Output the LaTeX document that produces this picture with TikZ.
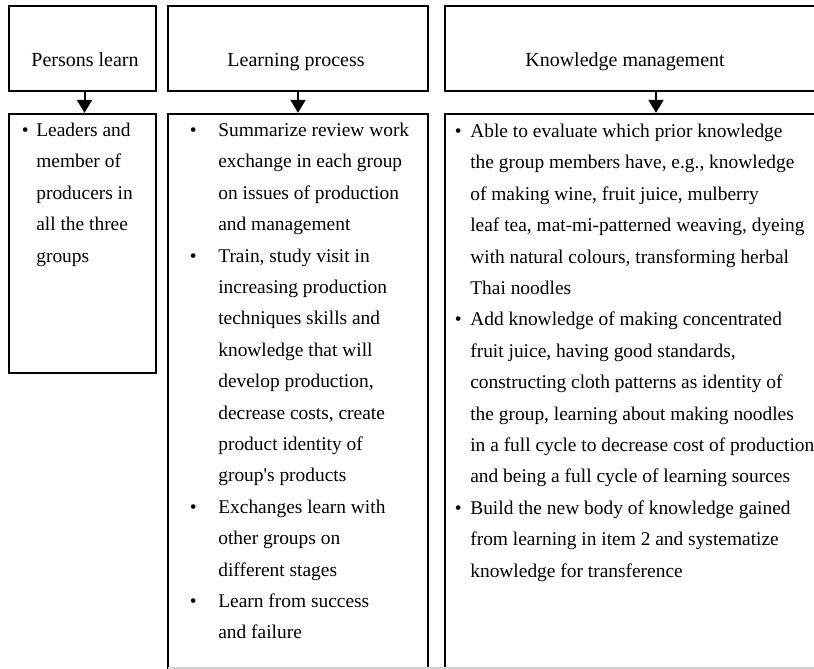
\documentclass[tikz,border=0pt]{standalone}
\usepackage{fontspec}
\setmainfont{Liberation Serif}
\usetikzlibrary{arrows.meta}
\begin{document}
\begin{tikzpicture}[x=0.6pt,y=-0.6pt]
	\tikzstyle{Head} = [rectangle, draw=black, line width=1.4pt, inner sep=0pt, minimum height=51pt]
	\tikzstyle{Body} = [rectangle, draw=black, line width=1.4pt, inner sep=0pt]
	\tikzstyle{Label} = [inner sep=0pt, anchor=base, font=\fontsize{12}{18.84}\selectfont]
	\tikzstyle{List} = [inner sep=0pt, anchor=base west, font=\fontsize{11.65}{18.84}\selectfont]
	\tikzstyle{arrow} = [line width=1.2pt, -{Triangle[width=9pt,length=7.8pt]}]
	
	\useasboundingbox (0,0) rectangle (814,669);
	\clip (0,0) rectangle (814,669);
	
	% top row
	\node (h1) [Head, minimum width=88.2pt] at (82.5,48.5) {};
	\node (h2) [Head, minimum width=156pt] at (298,48.5) {};
	\node (h3) [Head, minimum width=253.2pt] at (656,48.5) {};
	\node (l1) [Label] at (85,66.5) {Persons learn};
	\node (l2) [Label] at (296,66.5) {Learning process};
	\node (l3) [Label] at (625,66.5) {Knowledge management};
	
	% lower row
	\node (b1) [Body, minimum width=88.2pt, minimum height=155.4pt] at (82.5,243.5) {};
	\node (b2) [Body, minimum width=156pt, minimum height=351.6pt] at (298,407) {};
	\node (b3) [Body, minimum width=253.2pt, minimum height=351.6pt] at (656,407) {};
	\draw [gray!35, line width=0.8pt] (168,668) -- (814,668);
	
	\draw [arrow] ([xshift=1.2pt]h1.south) -- ([xshift=1.2pt]b1.north);
	\draw [arrow] (h2.south) -- (b2.north);
	\draw [arrow] (h3.south) -- (b3.north);
	
	\node (t1) [List] at (21.5,136.5) {%
		\begin{tabular}[t]{@{}p{8.7pt}@{}l@{}}
			\textbullet & Leaders and\\
			& member of\\
			& producers in\\
			& all the three\\
			& groups
		\end{tabular}};
	\node (t2) [List] at (189.5,136.5) {%
		\begin{tabular}[t]{@{}p{17.1pt}@{}l@{}}
			\textbullet & Summarize review work\\
			& exchange in each group\\
			& on issues of production\\
			& and management\\
			\textbullet & Train, study visit in\\
			& increasing production\\
			& techniques skills and\\
			& knowledge that will\\
			& develop production,\\
			& decrease costs, create\\
			& product identity of\\
			& group\textquotesingle s products\\
			\textbullet & Exchanges learn with\\
			& other groups on\\
			& different stages\\
			\textbullet & Learn from success\\
			& and failure
		\end{tabular}};
	\node (t3) [List] at (454.5,137.5) {%
		\begin{tabular}[t]{@{}p{9.3pt}@{}l@{}}
			\textbullet & Able to evaluate which prior knowledge\\
			& the group members have, e.g., knowledge\\
			& of making wine, fruit juice, mulberry\\
			& leaf tea, mat-mi-patterned weaving, dyeing\\
			& with natural colours, transforming herbal\\
			& Thai noodles\\
			\textbullet & Add knowledge of making concentrated\\
			& fruit juice, having good standards,\\
			& constructing cloth patterns as identity of\\
			& the group, learning about making noodles\\
			& in a full cycle to decrease cost of production\\
			& and being a full cycle of learning sources\\
			\textbullet & Build the new body of knowledge gained\\
			& from learning in item 2 and systematize\\
			& knowledge for transference
		\end{tabular}};
\end{tikzpicture}
\end{document}
